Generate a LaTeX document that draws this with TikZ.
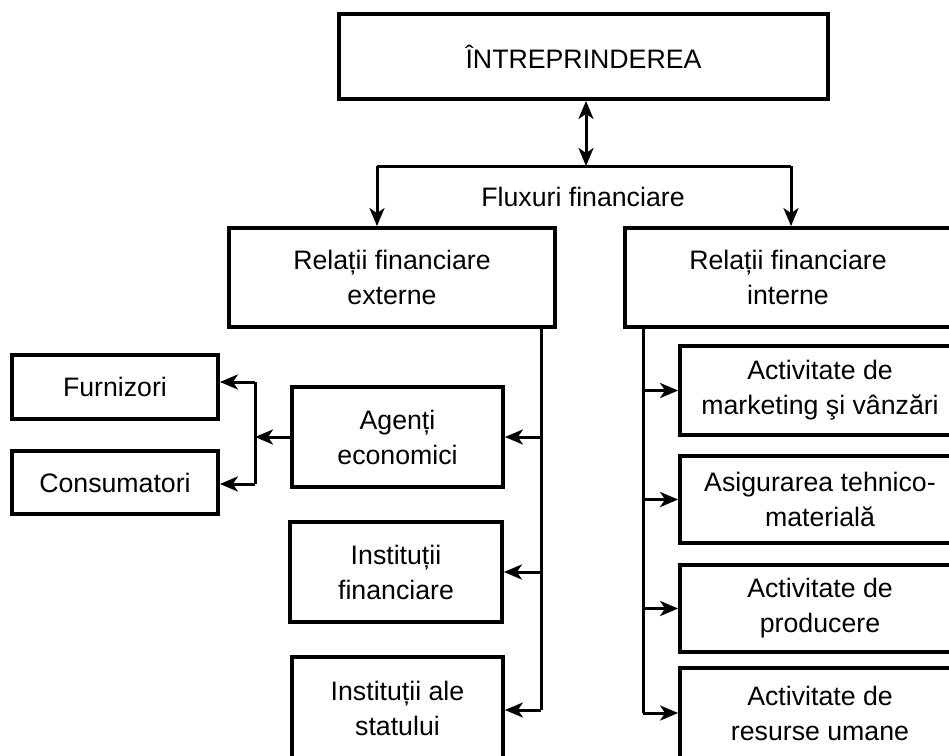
\documentclass[tikz,border=0pt]{standalone}
\usepackage{fontspec}
\setmainfont{Liberation Sans}
\usetikzlibrary{arrows.meta}
\begin{document}
\begin{tikzpicture}[x=1pt,y=-1pt,
  box/.style={draw=black,line width=3.8pt,inner sep=0pt,align=center,
    font=\fontsize{26.7}{35}\selectfont},
  conn/.style={line width=3pt},
  arr/.style={line width=3pt,-{Stealth[length=18pt,width=15pt,inset=5pt]}},
  darr/.style={line width=3pt,{Stealth[length=18pt,width=15pt,inset=5pt]}-{Stealth[length=18pt,width=15pt,inset=5pt]}},
  lbl/.style={inner sep=0pt,font=\fontsize{26.7}{35}\selectfont}]
\clip (0,0) rectangle (949,755);
\fill[white] (0,0) rectangle (949,755);

\node[box,minimum width=489pt,minimum height=85pt] (top) at (583.5,56.5) {ÎNTREPRINDEREA};
\node[box,minimum width=326pt,minimum height=99pt] (ext) at (392,277.5) {Relații financiare\\externe};
\node[box,minimum width=326pt,minimum height=99pt] (int) at (788,277.5) {Relații financiare\\interne};
\node[lbl] (flux) at (583,197) {Fluxuri financiare};

\node[box,minimum width=206pt,minimum height=64pt] (furn) at (115,387) {Furnizori};
\node[box,minimum width=206pt,minimum height=63pt] (cons) at (115,482.5) {Consumatori};
\node[box,minimum width=211pt,minimum height=100pt] (agent) at (397.5,437) {Agenți\\economici};
\node[box,minimum width=212pt,minimum height=100pt] (instfin) at (396,572) {Instituții\\financiare};
\node[box,minimum width=211pt,minimum height=102pt] (inststat) at (397.5,708) {Instituții ale\\statului};

\node[box,minimum width=280pt,minimum height=89pt] (mkt) at (820,390.5) {Activitate de\\marketing şi vânzări};
\node[box,minimum width=280pt,minimum height=87pt] (asig) at (820,499.5) {Asigurarea tehnico-\\materială};
\node[box,minimum width=280pt,minimum height=87pt] (prod) at (820,608.5) {Activitate de\\producere};
\node[box,minimum width=280pt,minimum height=90pt] (res) at (820,713) {Activitate de\\resurse umane};

% top connectors
\coordinate (hub) at (586,166);
\coordinate (hl) at (377,166);
\coordinate (hr) at (791,166);
\draw[darr] (hub |- top.south) -- (hub);
\draw[conn] (hl) -- (hr);
\draw[arr] (hl) -- (hl |- ext.north);
\draw[arr] (hr) -- (hr |- int.north);

% left trunk
\coordinate (ltop) at (541,327);
\coordinate (lbot) at (541,710);
\draw[conn] (ltop) -- (lbot);
\draw[arr] (ltop |- agent.east) -- (agent.east);
\draw[arr] (ltop |- instfin.east) -- (instfin.east);
\draw[arr] (lbot) -- (lbot -| inststat.east);

% left branch
\coordinate (jl) at (255,437);
\coordinate (jt) at (255,382);
\coordinate (jb) at (255,484);
\draw[arr] (agent.west) -- (jl);
\draw[conn] (jt) -- (jb);
\draw[arr] (jt) -- (jt -| furn.east);
\draw[arr] (jb) -- (jb -| cons.east);

% right trunk
\coordinate (rtop) at (643,327);
\coordinate (rbot) at (643,713);
\draw[conn] (rtop) -- (rbot);
\draw[arr] (rtop |- mkt.west) -- (mkt.west);
\draw[arr] (rtop |- asig.west) -- (asig.west);
\draw[arr] (rtop |- prod.west) -- (prod.west);
\draw[arr] (rbot) -- (rbot -| res.west);
\end{tikzpicture}
\end{document}
